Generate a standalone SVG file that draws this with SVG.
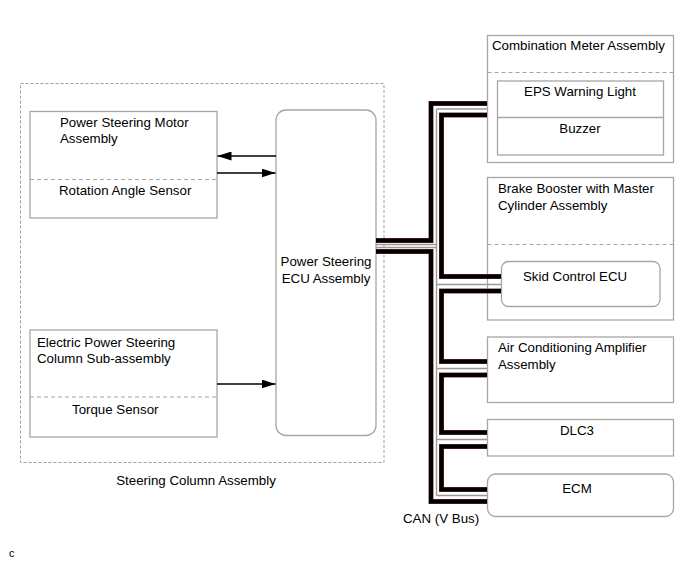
<svg xmlns="http://www.w3.org/2000/svg" width="694" height="562" viewBox="0 0 694 562">
<style>
.box{fill:none;stroke:#a6a6a6;stroke-width:1.3}
.dash{fill:none;stroke:#a6a6a6;stroke-width:1.1;stroke-dasharray:4,3}
.outer{fill:none;stroke:#a0a0a0;stroke-width:1;stroke-dasharray:3,2}
text{font-family:"Liberation Sans",Arial,sans-serif;font-size:13.3px;fill:#000}
.mid{text-anchor:middle}
.bus-r{fill:none;stroke:#7a3030;stroke-width:5}
.bus{fill:none;stroke:#000;stroke-width:4}
.bus-g{fill:none;stroke:#999;stroke-width:1.4}
.arrow{stroke:#000;stroke-width:1.3;fill:none;marker-end:url(#ah)}
</style>
<defs>
<marker id="ah" markerUnits="userSpaceOnUse" markerWidth="14" markerHeight="9" refX="14" refY="4.5" orient="auto">
<path d="M0,0 L14,4.5 L0,9 Z" fill="#000"/>
</marker>
</defs>
<rect width="694" height="562" fill="#fff"/>

<g id="steering-column-assembly">
<rect class="outer" x="20.5" y="83.5" width="363.5" height="379"/>
<text class="mid" x="196" y="485">Steering Column Assembly</text>
</g>

<g id="power-steering-motor">
<rect class="box" x="30" y="111.5" width="187" height="106.5"/>
<line class="dash" x1="30" y1="179.5" x2="217" y2="179.5"/>
<text x="60" y="127">Power Steering Motor</text>
<text x="60" y="143">Assembly</text>
<text x="59" y="195">Rotation Angle Sensor</text>
</g>

<g id="eps-column">
<rect class="box" x="30" y="330" width="187" height="107"/>
<line class="dash" x1="30" y1="397" x2="217" y2="397"/>
<text x="37" y="347">Electric Power Steering</text>
<text x="37" y="363">Column Sub-assembly</text>
<text x="72" y="414">Torque Sensor</text>
</g>

<g id="ps-ecu">
<rect class="box" x="276" y="110" width="100" height="325.5" rx="10"/>
<text class="mid" x="326" y="266">Power Steering</text>
<text class="mid" x="326" y="283">ECU Assembly</text>
</g>

<g id="combination-meter">
<rect class="box" x="487.5" y="35.5" width="186" height="127"/>
<line class="dash" x1="487.5" y1="72.5" x2="673.5" y2="72.5"/>
<text x="492" y="50">Combination Meter Assembly</text>
<rect class="box" x="497.5" y="81" width="166" height="74"/>
<line class="box" x1="497.5" y1="117.5" x2="663.5" y2="117.5"/>
<text class="mid" x="580" y="96">EPS Warning Light</text>
<text class="mid" x="580" y="133">Buzzer</text>
</g>

<g id="brake-booster">
<rect class="box" x="487.5" y="177.5" width="186" height="142.5"/>
<line class="dash" x1="487.5" y1="244.5" x2="673.5" y2="244.5"/>
<text x="498" y="193">Brake Booster with Master</text>
<text x="498" y="210">Cylinder Assembly</text>
<rect class="box" x="501.5" y="261.5" width="158.5" height="45" rx="7"/>
<text x="523" y="281">Skid Control ECU</text>
</g>

<g id="ac-amplifier">
<rect class="box" x="487.5" y="337" width="186" height="65.5"/>
<text x="498" y="352">Air Conditioning Amplifier</text>
<text x="498" y="369">Assembly</text>
</g>

<g id="dlc3">
<rect class="box" x="487.5" y="419.5" width="186" height="36.5"/>
<text class="mid" x="577" y="435">DLC3</text>
</g>

<g id="ecm">
<rect class="box" x="487.5" y="474" width="186" height="42.5" rx="8"/>
<text class="mid" x="577" y="493">ECM</text>
</g>

<g id="connectors">
<line class="arrow" x1="276" y1="156" x2="217.5" y2="156"/>
<line class="arrow" x1="217" y1="173" x2="275.5" y2="173"/>
<line class="arrow" x1="217" y1="384" x2="275.5" y2="384"/>

<g id="can-bus">
<path class="bus-g" d="M376,244.5 H436.5 M376,247.5 H436.5 M436.5,109 V495.5 M436.5,109 H487 M436.5,284.5 H501 M436.5,368.5 H487 M436.5,439.5 H487 M436.5,495.5 H487"/>
<path class="bus-r" d="M376,240.5 H431 V103.5 H487 M376,251.5 H431 V501.5 H487 M487,115 H441.5 V276.5 H501 M501,291 H441.5 V361.5 H487 M487,375 H441.5 V432.5 H487 M487,446.5 H441.5 V489.5 H487"/>
<path class="bus" d="M376,240.5 H431 V103.5 H487 M376,251.5 H431 V501.5 H487 M487,115 H441.5 V276.5 H501 M501,291 H441.5 V361.5 H487 M487,375 H441.5 V432.5 H487 M487,446.5 H441.5 V489.5 H487"/>
</g>
<text x="403" y="523">CAN (V Bus)</text>
</g>

<text x="9" y="557" style="font-size:11px">c</text>
</svg>
